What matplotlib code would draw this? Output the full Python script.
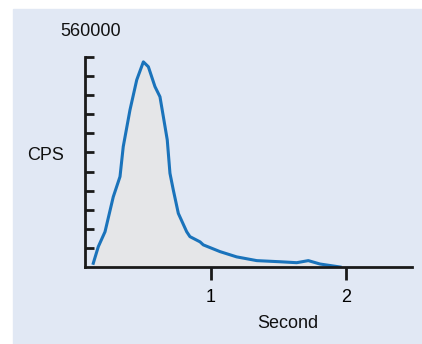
import matplotlib
matplotlib.use('Agg')
import matplotlib.pyplot as plt
import numpy as np
from matplotlib.patches import Rectangle

# data (seconds, counts per second)
seconds = [0.128, 0.165, 0.215, 0.276, 0.326, 0.350, 0.400, 0.450, 0.499, 0.536,
           0.585, 0.622, 0.647, 0.676, 0.696, 0.721, 0.758, 0.820, 0.844, 0.919,
           0.943, 1.067, 1.190, 1.339, 1.511, 1.635, 1.721, 1.807, 1.956]
cps = [9900, 54000, 94000, 187000, 241000, 321000, 419000, 499000, 547000, 534000,
       481000, 454000, 401000, 339000, 250000, 205000, 143000, 94000, 81000, 67000,
       59000, 41000, 27000, 17000, 14000, 11500, 17000, 8000, 0]
x_ticks = [1, 2]
x_tick_labels = ['1', '2']
y_max = 560000

W, H = 422, 344
fig = plt.figure(figsize=(W / 100, H / 100), dpi=100)
fig.patch.set_facecolor('white')
# pale blue panel with a white margin at top and left
fig.patches.append(Rectangle((13 / W, 0), 1 - 13 / W, (H - 9) / H,
                             transform=fig.transFigure, color='#e1e8f4', zorder=-10))

ax = fig.add_axes([85 / W, (H - 267) / H, (412 - 85) / W, (267 - 57) / H])
ax.set_facecolor('none')
ax.set_zorder(1)

ax.fill_between(seconds, cps, 0, color='#e5e6e8', zorder=1)
ax.plot(seconds, cps, color='#1a73bb', lw=2.2, zorder=2)

ax.set_xlim(0.0667, 2.489)
ax.set_ylim(0, y_max)

for s in ['top', 'right']:
    ax.spines[s].set_visible(False)
for s in ['left', 'bottom']:
    ax.spines[s].set_linewidth(2)
    ax.spines[s].set_color('#1a1a1a')

ax.set_xticks(x_ticks)
ax.set_xticklabels(x_tick_labels)
ax.set_yticks(np.linspace(0, y_max, 12)[1:])
ax.set_yticklabels([])
ax.tick_params(axis='y', direction='in', length=6.5, width=2, color='#1a1a1a')
ax.tick_params(axis='x', direction='out', length=9, width=2, color='#1a1a1a',
               labelsize=13, pad=7)
for lab in ax.get_xticklabels():
    lab.set_family('Liberation Sans')

font = dict(family='Liberation Sans', fontsize=13, color='#111111')
fig.text(91 / W, 1 - 32 / H, '560000', ha='center', va='center', **font)
fig.text(46 / W, 1 - 155 / H, 'CPS', ha='center', va='center', **font)
fig.text(288 / W, 1 - 324 / H, 'Second', ha='center', va='center', **font)

fig.savefig('out.png', dpi=100)
